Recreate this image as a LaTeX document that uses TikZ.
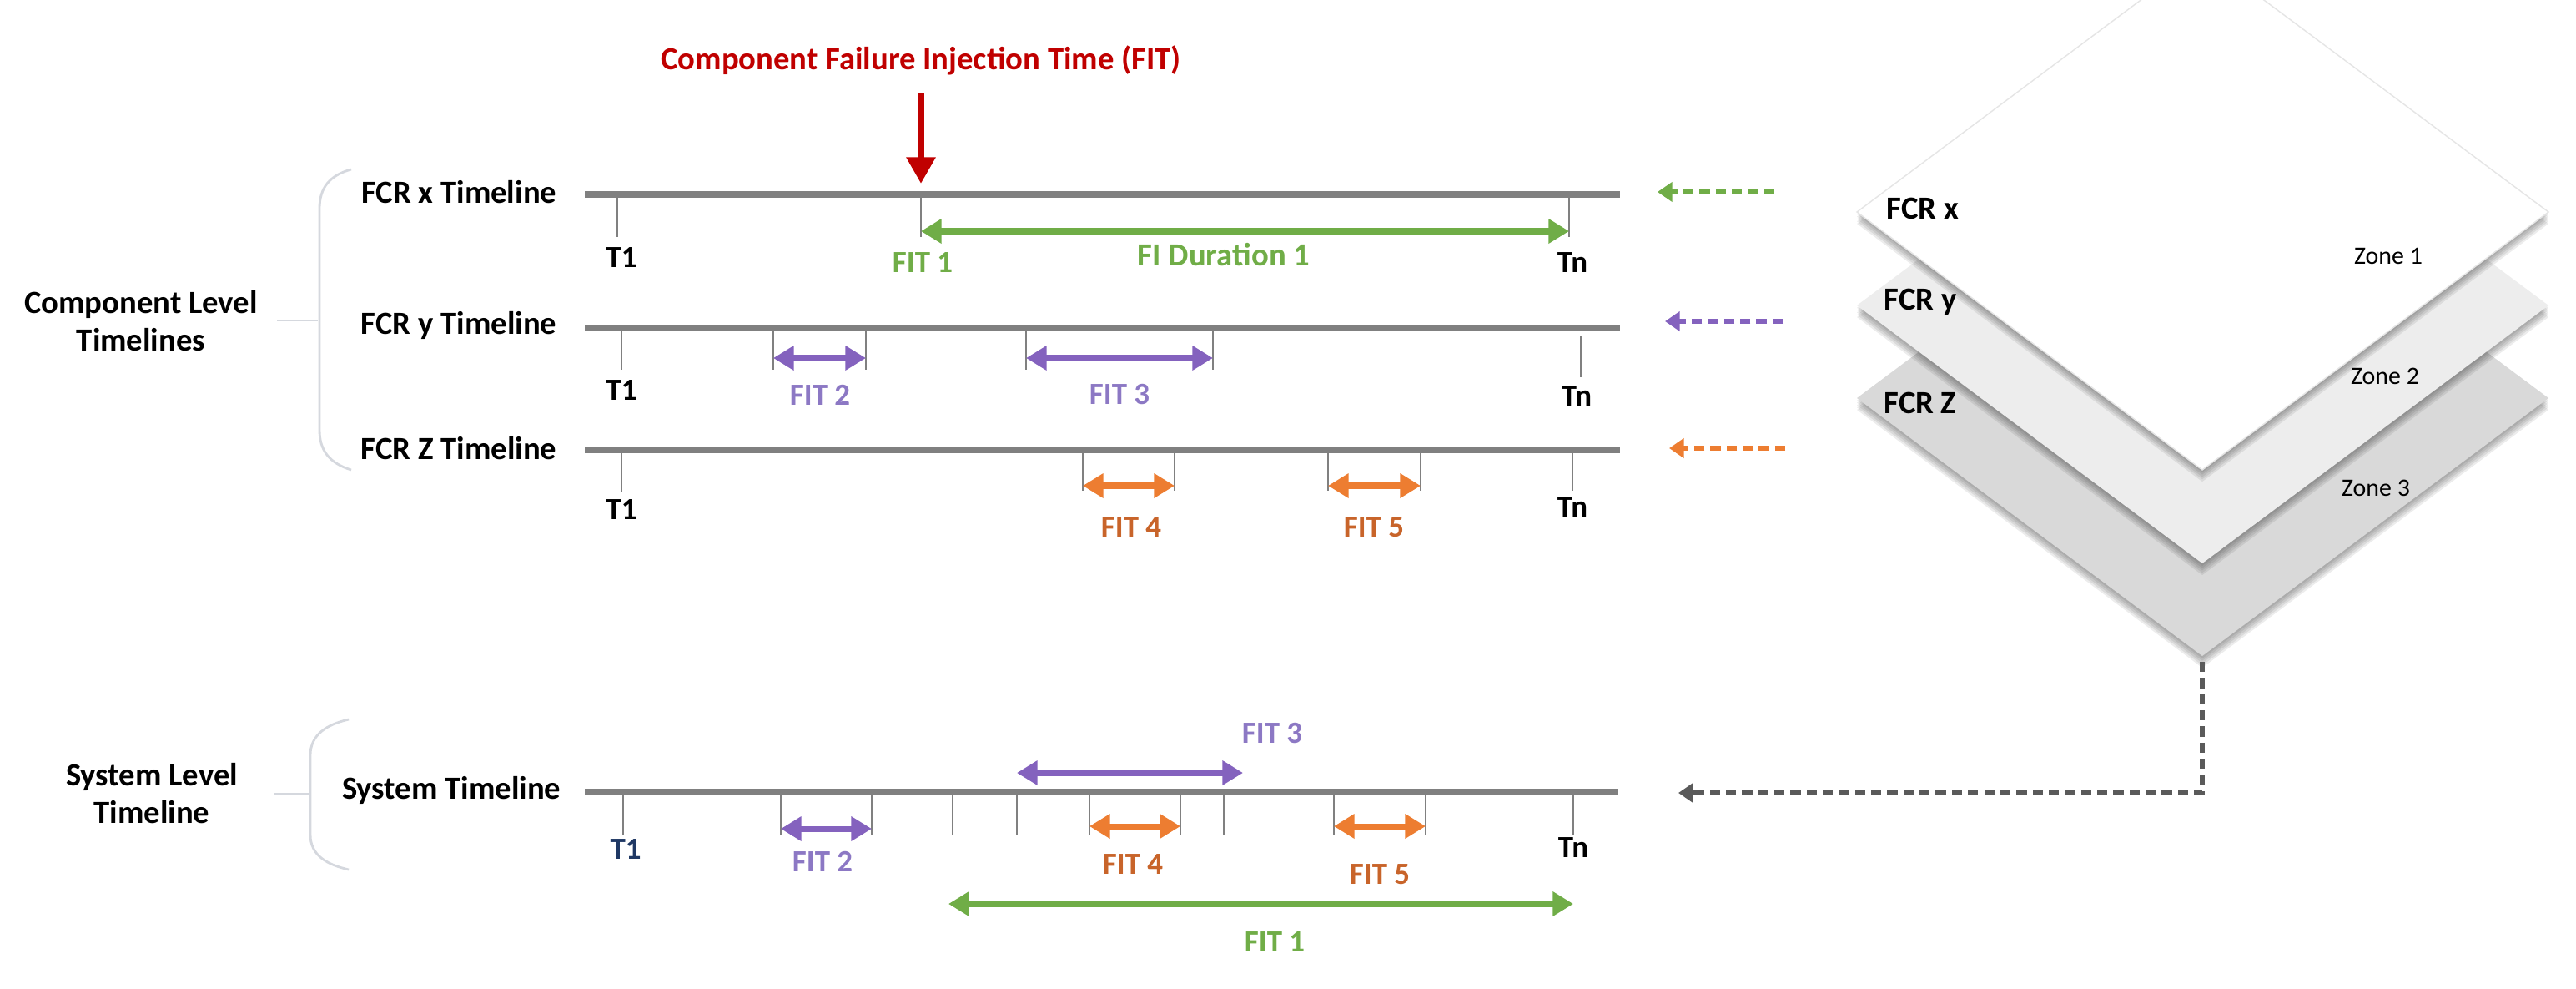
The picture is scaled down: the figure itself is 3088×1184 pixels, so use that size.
\documentclass[tikz,border=0pt]{standalone}
\usepackage{fontspec}
\setmainfont{Carlito}
\usetikzlibrary{arrows.meta}
\definecolor{tlgray}{HTML}{808080}
\definecolor{fitred}{HTML}{C00000}
\definecolor{fgreen}{HTML}{70AD47}
\definecolor{fpurple}{HTML}{8462BE}
\definecolor{fpurpletxt}{HTML}{8C78C4}
\definecolor{forange}{HTML}{ED7D31}
\definecolor{forangetxt}{HTML}{C8642A}
\definecolor{navyblue}{HTML}{1F3864}
\definecolor{bracegray}{HTML}{D5D8DE}
\definecolor{dgray}{HTML}{5A5A5A}
\definecolor{zonetwo}{HTML}{EDEDED}
\definecolor{zonethree}{HTML}{D9D9D9}
\begin{document}
\begin{tikzpicture}[x=0.01cm,y=-0.01cm,
  lbl/.style={font=\bfseries\fontsize{11}{12.8}\selectfont, inner sep=0pt, text=black},
  sm/.style={font=\bfseries\fontsize{10.5}{12}\selectfont, inner sep=0pt},
  zn/.style={font=\fontsize{8.5}{10}\selectfont, inner sep=0pt},
  tline/.style={draw=tlgray, line width=2pt},
  tk/.style={draw=tlgray, line width=0.7pt},
  fitarr/.style={line width=2pt, {Triangle[length=7pt,width=8pt]}-{Triangle[length=7pt,width=8pt]}},
  dasharr/.style={line width=1.7pt, dash pattern=on 3.5pt off 2pt, -{Triangle[length=5pt,width=6.5pt]}},
  bracestyle/.style={draw=bracegray, line width=0.8pt},
  shade/.style={fill=black, opacity=0.075},
]
\clip (0,0) rectangle (3088,1184);
\fill[white] (0,0) rectangle (3088,1184);

% ---------- title and red arrow ----------
\node[lbl, text=fitred] (title) at (1104,72) {Component Failure Injection Time (FIT)};
\coordinate (redS) at (1104,112);
\coordinate (redE) at (1104,220);
\draw[fitred, line width=2.2pt, -{Triangle[length=9pt,width=9.5pt]}] (redS) -- (redE);

% ---------- left labels and braces ----------
\node[lbl, align=center] (complevel) at (169,385) {Component Level\\Timelines};
\node[lbl, align=center] (syslevel) at (182,951) {System Level\\Timeline};
\draw[bracestyle] (421,203) .. controls (395,210) and (383,225) .. (383,250) -- (383,515) .. controls (383,540) and (395,555) .. (421,563);
\draw[bracestyle] (332,384) -- (381,384);
\draw[bracestyle] (418,862) .. controls (392,868) and (372,880) .. (372,905) -- (372,1000) .. controls (372,1025) and (392,1036) .. (418,1042);
\draw[bracestyle] (328,951) -- (371,951);

\node[lbl, anchor=east] (lx) at (668,230) {FCR x Timeline};
\node[lbl, anchor=east] (ly) at (668,390) {FCR y Timeline};
\node[lbl, anchor=east] (lz) at (668,537) {FCR Z Timeline};
\node[lbl, anchor=east] (ls) at (673,947) {System Timeline};

% ---------- FCR x timeline ----------
\coordinate (xS) at (701,233); \coordinate (xE) at (1942,233);
\draw[tline] (xS) -- (xE);
\draw[tk] (740,233) -- (740,284);
\draw[tk] (1104,233) -- (1104,284);
\draw[tk] (1881,233) -- (1881,284);
\coordinate (f1a) at (1104,277); \coordinate (f1b) at (1881,277);
\draw[fitarr, fgreen] (f1a) -- (f1b);
\node[sm] (xT1) at (745,308) {T1};
\node[sm, text=fgreen] (xFIT1) at (1106,314) {FIT 1};
\node[lbl, text=fgreen] (xdur) at (1467,305) {FI Duration 1};
\node[sm] (xTn) at (1885,315) {Tn};

% ---------- FCR y timeline ----------
\coordinate (yS) at (701,393); \coordinate (yE) at (1942,393);
\draw[tline] (yS) -- (yE);
\draw[tk] (745,393) -- (745,443);
\draw[tk] (927,393) -- (927,443);
\draw[tk] (1038,393) -- (1038,443);
\draw[tk] (1230,393) -- (1230,443);
\draw[tk] (1454,393) -- (1454,443);
\draw[tk] (1895,403) -- (1895,452);
\coordinate (f2a) at (927,429); \coordinate (f2b) at (1038,429);
\coordinate (f3a) at (1230,429); \coordinate (f3b) at (1454,429);
\draw[fitarr, fpurple] (f2a) -- (f2b);
\draw[fitarr, fpurple] (f3a) -- (f3b);
\node[sm] (yT1) at (745,467) {T1};
\node[sm, text=fpurpletxt] (yFIT2) at (983,473) {FIT 2};
\node[sm, text=fpurpletxt] (yFIT3) at (1342,473) {FIT 3};
\node[sm] (yTn) at (1890,475) {Tn};

% ---------- FCR Z timeline ----------
\coordinate (zS) at (701,539); \coordinate (zE) at (1942,539);
\draw[tline] (zS) -- (zE);
\draw[tk] (745,539) -- (745,590);
\draw[tk] (1298,539) -- (1298,588);
\draw[tk] (1408,539) -- (1408,588);
\draw[tk] (1592,539) -- (1592,588);
\draw[tk] (1703,539) -- (1703,588);
\draw[tk] (1885,541) -- (1885,588);
\coordinate (f4a) at (1298,582); \coordinate (f4b) at (1408,582);
\coordinate (f5a) at (1592,582); \coordinate (f5b) at (1703,582);
\draw[fitarr, forange] (f4a) -- (f4b);
\draw[fitarr, forange] (f5a) -- (f5b);
\node[sm] (zT1) at (745,610) {T1};
\node[sm, text=forangetxt] (zFIT4) at (1356,632) {FIT 4};
\node[sm, text=forangetxt] (zFIT5) at (1647,632) {FIT 5};
\node[sm] (zTn) at (1885,608) {Tn};

% ---------- System timeline ----------
\coordinate (sS) at (701,948); \coordinate (sE) at (1940,948);
\draw[tline] (sS) -- (sE);
\foreach \xx in {747,936,1045,1142,1219,1306,1415,1467,1599,1709,1886}
  \draw[tk] (\xx,948) -- (\xx,1000);
\coordinate (s2a) at (936,993); \coordinate (s2b) at (1045,993);
\coordinate (s4a) at (1306,990); \coordinate (s4b) at (1415,990);
\coordinate (s5a) at (1599,990); \coordinate (s5b) at (1709,990);
\coordinate (s3a) at (1219,926); \coordinate (s3b) at (1490,926);
\coordinate (s1a) at (1137,1083); \coordinate (s1b) at (1886,1083);
\draw[fitarr, fpurple] (s2a) -- (s2b);
\draw[fitarr, fpurple] (s3a) -- (s3b);
\draw[fitarr, forange] (s4a) -- (s4b);
\draw[fitarr, forange] (s5a) -- (s5b);
\draw[fitarr, fgreen] (s1a) -- (s1b);
\node[sm, text=navyblue] (sT1) at (750,1017) {T1};
\node[sm, text=fpurpletxt] (sFIT2) at (986,1032) {FIT 2};
\node[sm, text=fpurpletxt] (sFIT3) at (1525,879) {FIT 3};
\node[sm, text=forangetxt] (sFIT4) at (1358,1035) {FIT 4};
\node[sm, text=forangetxt] (sFIT5) at (1654,1048) {FIT 5};
\node[sm] (sTn) at (1886,1016) {Tn};
\node[sm, text=fgreen] (sFIT1) at (1528,1128) {FIT 1};

% ---------- stacked layers ----------
\coordinate (D3L) at (2226,477); \coordinate (D3T) at (2640,168);
\coordinate (D3R) at (3055,477); \coordinate (D3B) at (2640,786);
\coordinate (D2L) at (2226,366); \coordinate (D2T) at (2640,57);
\coordinate (D2R) at (3055,366); \coordinate (D2B) at (2640,675);
\coordinate (D1L) at (2226,254); \coordinate (D1T) at (2640,-55);
\coordinate (D1R) at (3055,254); \coordinate (D1B) at (2640,563);
\foreach \k in {0.8,1.6,2.4,3.2,4.0}
  \fill[shade] ([yshift=-\k pt]D3L) -- ([yshift=-\k pt]D3T) -- ([yshift=-\k pt]D3R) -- ([yshift=-\k pt]D3B) -- cycle;
\fill[zonethree] (D3L) -- (D3T) -- (D3R) -- (D3B) -- cycle;
\foreach \k in {0.8,1.6,2.4,3.2,4.0}
  \fill[shade] ([yshift=-\k pt]D2L) -- ([yshift=-\k pt]D2T) -- ([yshift=-\k pt]D2R) -- ([yshift=-\k pt]D2B) -- cycle;
\fill[zonetwo] (D2L) -- (D2T) -- (D2R) -- (D2B) -- cycle;
\foreach \k in {0.8,1.6,2.4,3.2,4.0}
  \fill[shade] ([yshift=-\k pt]D1L) -- ([yshift=-\k pt]D1T) -- ([yshift=-\k pt]D1R) -- ([yshift=-\k pt]D1B) -- cycle;
\path[fill=white, draw=black!10, line width=0.4pt] (D1L) -- (D1T) -- (D1R) -- (D1B) -- cycle;

\node[lbl] (fx) at (2305,250) {FCR x};
\node[lbl] (fy) at (2302,362) {FCR y};
\node[lbl] (fz) at (2302,483) {FCR Z};
\node[zn] (z1) at (2863,307) {Zone 1};
\node[zn] (z2) at (2859,451) {Zone 2};
\node[zn] (z3) at (2848,585) {Zone 3};

% ---------- dashed arrows ----------
\coordinate (gS) at (2127,230); \coordinate (gE) at (1987,230);
\coordinate (pS) at (2137,385); \coordinate (pE) at (1996,385);
\coordinate (oS) at (2140,537); \coordinate (oE) at (2001,537);
\draw[dasharr, fgreen] (gS) -- (gE);
\draw[dasharr, fpurple] (pS) -- (pE);
\draw[dasharr, forange] (oS) -- (oE);
\coordinate (sysEnd) at (2012,950);
\draw[dasharr, dgray] ([yshift=-2pt]D3B) |- (sysEnd);

\end{tikzpicture}
\end{document}
